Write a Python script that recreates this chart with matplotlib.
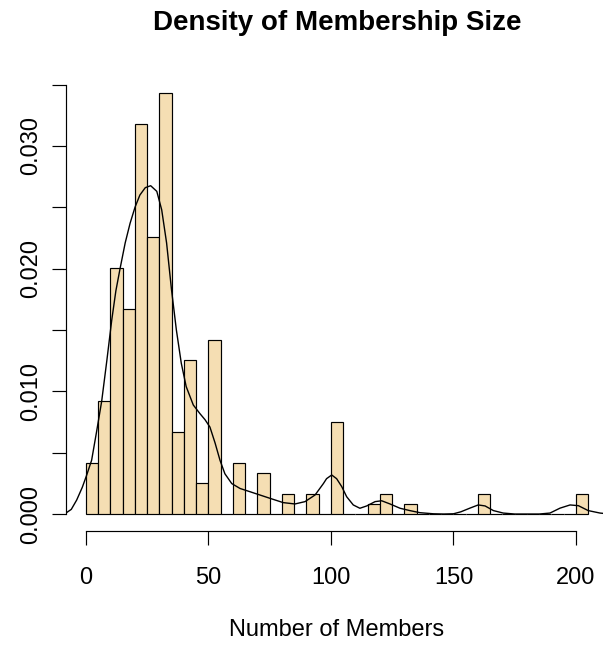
import matplotlib
matplotlib.use("Agg")
import matplotlib.pyplot as plt
import numpy as np

plt.rcParams['font.family'] = ['Liberation Sans', 'DejaVu Sans']

# Histogram of membership sizes: bins of width 5 from 0 to 205
bin_edges = list(range(0, 210, 5))
bin_counts = [5, 11, 24, 20, 38, 27, 41, 8, 15, 3, 17, 0, 5, 0, 4, 0, 2, 0, 2, 0,
              9, 0, 0, 1, 2, 0, 1, 0, 0, 0, 0, 0, 2, 0, 0, 0, 0, 0, 0, 0, 2]

# Kernel density estimate of the same sizes
kde_x = [-8.2, -6, -3.8, -1.5, 0.3, 2.3, 4.3, 6.4, 8.5, 10.5, 12.2, 13.9, 16, 18,
         20, 22, 24.2, 26.4, 28.9, 30.9, 32.9, 34.9, 36.9, 38.9, 40.9, 43.8, 46.5,
         48.6, 50.6, 52.7, 54.7, 56.7, 59.5, 62.9, 66.9, 71.0, 75.1, 80.5, 85.3,
         89.4, 93.5, 96.9, 98.2, 100.3, 102.3, 104.4, 106.4, 109.1, 111.8, 114.6,
         118.0, 120.7, 124.1, 128.2, 132.2, 136.3, 141.8, 146, 150, 153, 156.7,
         160.1, 162.9, 166.3, 170.3, 175, 185, 189.4, 193.5, 197.6, 201, 205,
         209.8, 213.2]
kde_y = [0.0001, 0.0004, 0.00116, 0.0022, 0.0032, 0.0044, 0.0067, 0.0092, 0.0125,
         0.0158, 0.0182, 0.0200, 0.0221, 0.0237, 0.0250, 0.0260, 0.0266, 0.02676,
         0.0263, 0.0248, 0.0221, 0.0183, 0.0150, 0.0123, 0.0104, 0.0089, 0.0082,
         0.0077, 0.0071, 0.0058, 0.0044, 0.0033, 0.0025, 0.0021, 0.00184, 0.00157,
         0.0013, 0.00095, 0.00084, 0.00103, 0.00157, 0.0025, 0.0029, 0.0032, 0.0029,
         0.00225, 0.00143, 0.00076, 0.00049, 0.00068, 0.00103, 0.0011, 0.00084,
         0.00049, 0.0003, 0.00013, 0.00004, 0.00002, 0.00004, 0.0002, 0.0005,
         0.00076, 0.00068, 0.0003, 0.0001, 0.00002, 0.00002, 0.0001, 0.0005,
         0.00076, 0.0007, 0.0003, 0.0001, 0.00003]

x_ticks = [0, 50, 100, 150, 200]
y_ticks = [0.000, 0.005, 0.010, 0.015, 0.020, 0.025, 0.030, 0.035]
y_labels = ["0.000", "", "0.010", "", "0.020", "", "0.030", ""]

counts = np.array(bin_counts, dtype=float)
width = bin_edges[1] - bin_edges[0]
density = counts / (counts.sum() * width)

fig = plt.figure(figsize=(6.03, 6.45), dpi=100)
ax = fig.add_axes([65.9 / 603, (645 - 531.1) / 645,
                   (608.3 - 65.9) / 603, (531.1 - 76.3) / 645])

ax.bar(bin_edges[:-1], density, width=width, align='edge',
       color='#F5DEB3', edgecolor='black', linewidth=0.85)
ax.plot(kde_x, kde_y, color='black', linewidth=1.0)

ax.set_xlim(-8.2, 213.2)
ax.set_ylim(-0.00137, 0.03567)

for s in ('top', 'right'):
    ax.spines[s].set_visible(False)
ax.spines['left'].set_bounds(0, 0.035)
ax.spines['bottom'].set_bounds(0, 200)
for s in ('left', 'bottom'):
    ax.spines[s].set_linewidth(0.85)

ax.set_xticks(x_ticks)
ax.set_xticklabels([str(t) for t in x_ticks])
ax.set_yticks(y_ticks)
ax.set_yticklabels(y_labels, rotation=90, va='center')
ax.tick_params(axis='both', length=10, width=0.85, labelsize=17)
ax.tick_params(axis='x', pad=16)
ax.tick_params(axis='y', pad=7)

fig.text(337 / 603, 1 - 630 / 645, "Number of Members",
         fontsize=17, ha='center', va='center')
fig.text(337 / 603, 1 - 29.5 / 645, "Density of Membership Size",
         fontsize=20, fontweight='bold', ha='center', va='baseline')

fig.savefig("out.png", dpi=100)
